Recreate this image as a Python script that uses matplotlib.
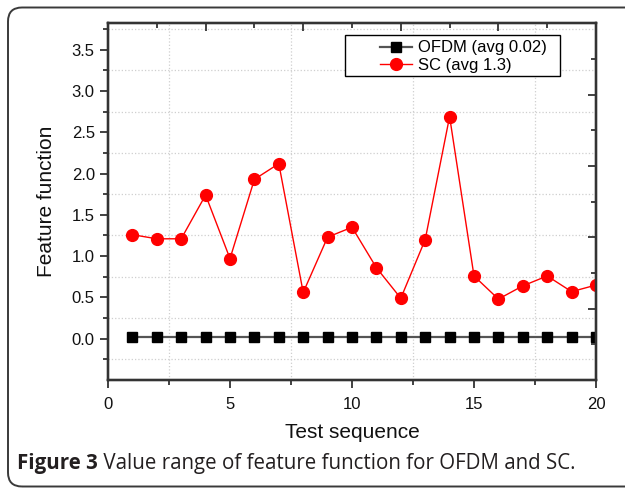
import numpy as np
import matplotlib
matplotlib.use('Agg')
import matplotlib.pyplot as plt
from matplotlib.ticker import MultipleLocator, NullFormatter
from matplotlib.patches import FancyBboxPatch, Rectangle

# data
test_seq = [1, 2, 3, 4, 5, 6, 7, 8, 9, 10, 11, 12, 13, 14, 15, 16, 17, 18, 19, 20]
ofdm = [0.02, 0.02, 0.02, 0.02, 0.02, 0.02, 0.02, 0.02, 0.02, 0.02,
        0.02, 0.02, 0.02, 0.02, 0.02, 0.02, 0.02, 0.02, 0.02, 0.02]
sc = [1.26, 1.21, 1.21, 1.74, 0.97, 1.93, 2.12, 0.56, 1.23, 1.35,
      0.86, 0.49, 1.20, 2.69, 0.76, 0.48, 0.64, 0.76, 0.57, 0.65]
labels = ['OFDM (avg 0.02)', 'SC (avg 1.3)']
caption_bold = 'Figure 3'
caption_rest = ' Value range of feature function for OFDM and SC.'

plt.rcParams['font.family'] = ['Liberation Sans', 'DejaVu Sans']
spine_col = '#333333'

fig = plt.figure(figsize=(6.25, 4.88), dpi=100)
ax = fig.add_axes([0.1728, 0.2213, 0.7808, 0.7310])

l1, = ax.plot(test_seq, ofdm, '-s', color='#555555', mfc='black', mec='black',
              ms=6.5, lw=1.6, zorder=3)
l2, = ax.plot(test_seq, sc, '-o', color='red', ms=8.5, lw=1, zorder=4)

ax.set_xlim(0, 20)
ax.set_ylim(-0.5, 3.82)
ax.set_xticks([0, 5, 10, 15, 20])
ax.set_xticks([2.5, 7.5, 12.5, 17.5], minor=True)
ax.set_yticks([0.0, 0.5, 1.0, 1.5, 2.0, 2.5, 3.0, 3.5])
ax.set_yticks(np.arange(-0.25, 3.8, 0.5), minor=True)
ax.yaxis.set_major_formatter(plt.FormatStrFormatter('%.1f'))
ax.grid(which='minor', linestyle=':', color='#cfcfcf', lw=0.9)
ax.set_axisbelow(True)
ax.tick_params(which='both', direction='out', colors=spine_col, width=1.3,
               labelsize=12, labelcolor='#111111', top=False, right=False)
ax.tick_params(which='major', length=6)
ax.tick_params(which='minor', length=3.5)
ax.tick_params(axis='x', pad=6)
for s in ax.spines.values():
    s.set_color(spine_col)
    s.set_linewidth(1.6)
ax.set_xlabel('Test sequence', fontsize=15, labelpad=8, color='#111111')
ax.set_ylabel('Feature function', fontsize=15, labelpad=11, color='#111111')

# second scales on top and right, ticks only
axt = ax.twiny()
axt.set_xlim(0, 20)
axt.xaxis.set_major_locator(MultipleLocator(4))
axt.xaxis.set_minor_locator(MultipleLocator(2))
axt.xaxis.set_major_formatter(NullFormatter())
axt.tick_params(which='both', direction='in', colors=spine_col, width=1.3)
axt.tick_params(which='major', length=6)
axt.tick_params(which='minor', length=3.5)
axr = ax.twinx()
axr.set_ylim(0, 10)
axr.yaxis.set_major_locator(MultipleLocator(2))
axr.yaxis.set_minor_locator(MultipleLocator(1))
axr.yaxis.set_major_formatter(NullFormatter())
axr.tick_params(which='both', direction='in', colors=spine_col, width=1.3)
axr.tick_params(which='major', length=6)
axr.tick_params(which='minor', length=3.5)
for a in (axt, axr):
    for s in a.spines.values():
        s.set_color(spine_col)
        s.set_linewidth(1.6)

# legend box drawn separately, Origin style with room left of the handles
axr.add_patch(Rectangle((0.486, 0.852), 0.44, 0.115, transform=axr.transAxes,
                        fill=True, fc='white', ec='black', lw=1.0, zorder=9,
                        clip_on=False))
leg = axr.legend([l1, l2], labels, loc='center left', bbox_to_anchor=(0.557, 0.906),
                 borderaxespad=0, borderpad=0, fontsize=12, frameon=False,
                 handlelength=1.95, labelspacing=0.16, handletextpad=0.36)
leg.set_zorder(10)

# rounded frame round the figure
box = FancyBboxPatch((0.08, 0.015), 6.6, 4.79, boxstyle='round,pad=0,rounding_size=0.14',
                     transform=fig.dpi_scale_trans, fill=False, ec='#3a3a3a', lw=1.4)
fig.patches.append(box)

cap_y = 1 - 463 / 488
t1 = fig.text(17 / 625, cap_y, caption_bold, fontsize=14.8, fontweight='bold',
              family='Open Sans', color='#231f20', va='center', ha='left')
fig.canvas.draw()
bb = t1.get_window_extent()
fig.text(bb.x1 / 625, cap_y, caption_rest, fontsize=14.8, family='Open Sans',
         color='#231f20', va='center', ha='left')

fig.savefig('out.png', dpi=100)
